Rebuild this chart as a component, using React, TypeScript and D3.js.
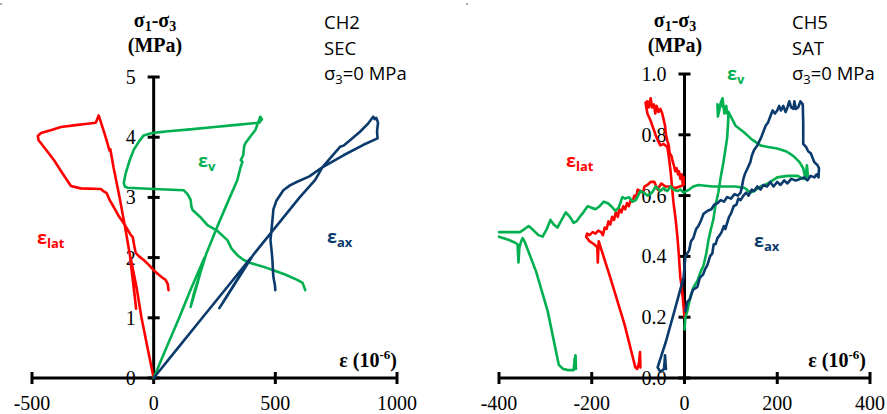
import React from "react";
import * as d3 from "d3";

type P = [number, number];

// ---------- Left panel (CH2, SEC) ----------
const leftXTicks = [-500, 0, 500, 1000];
const leftYTicks = [0, 1, 2, 3, 4, 5];

const leftLat: P[] = [
  [0, 0], [-25, 0.5], [-50, 1.0], [-70, 1.5], [-95, 2.0], [-72, 1.15], [-98, 2.05],
  [-115, 2.45], [-140, 3.0], [-165, 3.5], [-178, 3.8], [-182, 3.78], [-190, 3.9],
  [-205, 4.1], [-221, 4.3], [-226, 4.36], [-232, 4.3], [-238, 4.24], [-280, 4.22],
  [-320, 4.2], [-381, 4.17], [-420, 4.12], [-463, 4.07], [-476, 4.02], [-473, 3.95],
  [-463, 3.9], [-440, 3.78], [-410, 3.62], [-375, 3.4], [-340, 3.19], [-300, 3.15],
  [-217, 3.14], [-205, 3.1], [-193, 3.07], [-180, 2.95], [-164, 2.84], [-145, 2.7],
  [-123, 2.57], [-105, 2.45], [-95, 2.38], [-86, 2.34], [-80, 2.2], [-74, 2.08],
  [-60, 2.02], [-41, 1.96], [-20, 1.88], [0, 1.79], [20, 1.72], [35, 1.67],
  [49, 1.63], [58, 1.56], [61, 1.46],
];

const leftVol: P[] = [
  [0, 0], [50, 0.48], [105, 1.0], [150, 1.45], [209, 2.0], [175, 1.5], [152, 1.18],
  [165, 1.4], [215, 2.05], [260, 2.5], [300, 2.88], [344, 3.29], [357, 3.5],
  [365, 3.59], [358, 3.62], [368, 3.7], [372, 3.85], [377, 3.9], [395, 4.0],
  [418, 4.12], [430, 4.25], [438, 4.34], [445, 4.3], [434, 4.24], [330, 4.2],
  [250, 4.17], [150, 4.13], [60, 4.1], [16, 4.08], [-15, 4.06], [-41, 4.03],
  [-60, 3.93], [-82, 3.79], [-100, 3.6], [-115, 3.4], [-123, 3.24], [-118, 3.18],
  [-107, 3.16], [0, 3.14], [123, 3.12], [140, 3.05], [152, 2.96], [155, 2.85],
  [160, 2.79], [190, 2.68], [221, 2.54], [260, 2.45], [303, 2.29], [320, 2.15],
  [344, 2.04], [370, 1.96], [398, 1.91], [450, 1.85], [492, 1.79], [540, 1.72],
  [590, 1.63], [612, 1.58], [623, 1.46],
];

const leftAx: P[] = [
  [0, 0], [100, 0.5], [200, 1.0], [300, 1.5], [400, 2.0], [330, 1.55], [270, 1.16],
  [300, 1.35], [410, 2.05], [492, 2.46], [600, 3.0], [664, 3.29], [693, 3.5],
  [740, 3.72], [766, 3.84], [780, 3.86], [807, 3.95], [848, 4.09], [880, 4.22],
  [902, 4.34], [908, 4.3], [915, 4.32], [922, 4.24], [918, 4.1], [920, 3.98],
  [860, 3.87], [780, 3.7], [693, 3.5], [640, 3.35], [590, 3.26], [560, 3.2],
  [533, 3.12], [505, 2.95], [492, 2.8], [490, 2.7], [480, 2.29], [485, 2.1],
  [488, 1.96], [490, 1.8], [492, 1.68], [498, 1.55], [500, 1.46],
];

// ---------- Right panel (CH5, SAT) ----------
const rightXTicks = [-400, -200, 0, 200, 400];
const rightYTicks = [0, 0.2, 0.4, 0.6, 0.8, 1.0];

const rightLat: P[] = [
  [0, 0.2], [-3, 0.25], [-6, 0.3], [-9, 0.33], [-12, 0.4], [-15, 0.46], [-19, 0.52],
  [-24, 0.58], [-27, 0.63], [-30, 0.68], [-34, 0.73], [-37, 0.76], [-45, 0.77],
  [-52, 0.765], [-60, 0.79], [-67, 0.82], [-74, 0.85], [-80, 0.87], [-84, 0.905],
  [-80, 0.91], [-77, 0.89], [-73, 0.92], [-70, 0.89], [-66, 0.9], [-63, 0.87],
  [-60, 0.895], [-56, 0.875], [-52, 0.885], [-48, 0.87], [-45, 0.85], [-42, 0.83],
  [-40, 0.8], [-37, 0.78], [-34, 0.765], [-32, 0.74], [-28, 0.73], [-26, 0.715],
  [-23, 0.7], [-20, 0.68], [-17, 0.69], [-14, 0.67], [-12, 0.68], [-9, 0.655],
  [-6, 0.67], [-4, 0.64], [-2, 0.66], [-2, 0.635], [-10, 0.63], [-20, 0.625],
  [-32, 0.63], [-41, 0.63], [-50, 0.64], [-58, 0.62], [-65, 0.645], [-73, 0.645],
  [-80, 0.635], [-86, 0.63], [-90, 0.61], [-95, 0.615], [-101, 0.62], [-104, 0.595],
  [-108, 0.6], [-112, 0.58], [-116, 0.585], [-120, 0.565], [-124, 0.575],
  [-128, 0.555], [-132, 0.565], [-136, 0.545], [-140, 0.555], [-144, 0.53],
  [-148, 0.545], [-152, 0.52], [-156, 0.53], [-160, 0.505], [-164, 0.515],
  [-168, 0.49], [-172, 0.495], [-176, 0.47], [-180, 0.48], [-186, 0.485],
  [-192, 0.475], [-198, 0.48], [-205, 0.47], [-210, 0.475], [-212, 0.465],
  [-205, 0.45], [-195, 0.44], [-188, 0.43], [-187, 0.38], [-185, 0.45],
  [-160, 0.33], [-130, 0.18], [-106, 0.035], [-102, 0.03], [-98, 0.05],
  [-96, 0.085], [-95, 0.035],
];

const rightVolA: P[] = [
  [0, 0.16], [2, 0.2], [6, 0.22], [13, 0.27], [20, 0.3], [28, 0.32], [35, 0.35],
  [41, 0.37], [47, 0.41], [52, 0.456], [57, 0.49], [62, 0.52], [67, 0.57],
  [73, 0.61], [78, 0.66], [84, 0.71], [88, 0.75], [92, 0.79], [94, 0.84],
  [95, 0.875], [92, 0.87], [90, 0.895], [86, 0.87], [82, 0.92], [78, 0.905],
  [75, 0.88], [72, 0.86], [71, 0.9], [74, 0.885], [80, 0.9], [88, 0.88],
  [95, 0.875], [100, 0.86], [110, 0.83], [127, 0.81], [145, 0.785], [164, 0.765],
  [180, 0.76], [200, 0.755], [220, 0.745], [235, 0.73], [248, 0.71], [256, 0.69],
  [261, 0.655], [264, 0.7], [266, 0.665], [256, 0.655], [244, 0.665], [222, 0.665],
  [200, 0.66], [180, 0.64], [164, 0.63], [150, 0.615], [142, 0.61], [130, 0.625],
  [110, 0.63], [92, 0.63], [60, 0.63], [30, 0.635], [19, 0.63], [10, 0.62],
  [-2, 0.61], [-9, 0.62], [-15, 0.615], [-24, 0.62], [-30, 0.63], [-37, 0.615],
  [-45, 0.625], [-52, 0.615], [-62, 0.63], [-70, 0.61], [-80, 0.6], [-88, 0.61],
  [-95, 0.615], [-105, 0.585], [-112, 0.58], [-120, 0.595], [-128, 0.59],
  [-134, 0.595], [-142, 0.56], [-149, 0.55], [-158, 0.565], [-165, 0.575],
  [-174, 0.58], [-183, 0.565], [-192, 0.555], [-200, 0.56], [-209, 0.565],
  [-218, 0.545], [-226, 0.53], [-233, 0.515], [-239, 0.51], [-247, 0.53],
  [-256, 0.545], [-265, 0.52], [-274, 0.495], [-282, 0.505], [-289, 0.52],
  [-297, 0.49], [-306, 0.465], [-315, 0.47], [-325, 0.485], [-336, 0.5],
  [-345, 0.49], [-355, 0.48], [-370, 0.48], [-400, 0.48],
];

const rightVolB: P[] = [
  [-400, 0.465], [-380, 0.455], [-365, 0.445], [-360, 0.44], [-358, 0.38],
  [-356, 0.43], [-352, 0.45], [-349, 0.46], [-345, 0.45], [-320, 0.35],
  [-295, 0.22], [-271, 0.043], [-262, 0.03], [-252, 0.026], [-239, 0.026],
  [-237, 0.06], [-235, 0.075], [-234, 0.03],
];

const rightAx: P[] = [
  [2, 0.22], [6, 0.25], [12, 0.26], [18, 0.29], [28, 0.3], [33, 0.33], [40, 0.34],
  [45, 0.36], [49, 0.37], [55, 0.4], [60, 0.41], [63, 0.44], [67, 0.44], [71, 0.46],
  [76, 0.47], [80, 0.48], [85, 0.5], [88, 0.49], [92, 0.51], [96, 0.53], [100, 0.54],
  [106, 0.565], [112, 0.57], [116, 0.59], [121, 0.585], [127, 0.6], [133, 0.61],
  [138, 0.6], [145, 0.62], [150, 0.615], [157, 0.63], [164, 0.62], [170, 0.635],
  [178, 0.63], [185, 0.645], [192, 0.63], [200, 0.645], [207, 0.635], [215, 0.65],
  [222, 0.64], [230, 0.655], [240, 0.65], [250, 0.655], [258, 0.66], [265, 0.65],
  [272, 0.665], [280, 0.66], [285, 0.67], [289, 0.66], [290, 0.69], [287, 0.7],
  [280, 0.71], [272, 0.74], [267, 0.745], [262, 0.76], [256, 0.77], [256, 0.84],
  [255, 0.9], [250, 0.91], [245, 0.89], [240, 0.885], [237, 0.91], [235, 0.885],
  [230, 0.89], [226, 0.91], [222, 0.89], [218, 0.875], [213, 0.895], [208, 0.88],
  [204, 0.895], [200, 0.88], [195, 0.87], [190, 0.88], [185, 0.86], [180, 0.84],
  [175, 0.83], [170, 0.81], [165, 0.79], [160, 0.775], [157, 0.765], [150, 0.75],
  [145, 0.73], [142, 0.71], [136, 0.69], [130, 0.67], [127, 0.655], [124, 0.63],
  [121, 0.61], [115, 0.6], [108, 0.605], [100, 0.59], [92, 0.595], [85, 0.58],
  [78, 0.585], [71, 0.575], [64, 0.57], [58, 0.555], [50, 0.55], [41, 0.54],
  [36, 0.52], [30, 0.5], [25, 0.49], [19, 0.46], [14, 0.45], [10, 0.42], [6, 0.41],
  [2, 0.4], [-2, 0.33], [-20, 0.23], [-40, 0.12], [-58, 0.035], [-52, 0.02],
  [-44, 0.03], [-42, 0.075], [-40, 0.03],
];

const RED = "#FF0000";
const GREEN = "#00B050";
const NAVY = "#0B3A6C";

const serif = "'Liberation Serif', 'Times New Roman', serif";
const sans = "'Open Sans', 'Liberation Sans', sans-serif";

type Series = { data: P[]; color: string };
type Label = { sub: string; x: number; y: number; color: string };

type PanelProps = {
  xDomain: [number, number];
  xRange: [number, number];
  yDomain: [number, number];
  yRange: [number, number];
  xTicks: number[];
  yTicks: number[];
  yFmt: (v: number) => string;
  series: Series[];
  labels: Label[];
  titleX: number;
  xTitleEnd: number;
  infoX: number;
  info: string[];
};

function Panel(p: PanelProps) {
  const x = d3.scaleLinear().domain(p.xDomain).range(p.xRange);
  const y = d3.scaleLinear().domain(p.yDomain).range(p.yRange);
  const line = d3
    .line<P>()
    .x((d) => x(d[0]))
    .y((d) => y(d[1]))
    .curve(d3.curveLinear);
  const x0 = x(0);
  const y0 = y(0);
  const yTop = y(p.yDomain[1]);
  return (
    <g>
      {p.yTicks.map((t) => (
        <text
          key={"yl" + t}
          x={x0 - 18}
          y={y(t)}
          textAnchor="end"
          dominantBaseline="central"
          fontFamily={serif}
          fontSize={20}
          fill="#000"
        >
          {p.yFmt(t)}
        </text>
      ))}
      {p.xTicks.map((t) => (
        <text
          key={"xl" + t}
          x={x(t)}
          y={410}
          textAnchor="middle"
          fontFamily={serif}
          fontSize={20}
          fill="#000"
        >
          {t}
        </text>
      ))}
      <line x1={x(p.xDomain[0])} x2={x(p.xDomain[1])} y1={y0} y2={y0} stroke="#000" strokeWidth={3} />
      <line x1={x0} x2={x0} y1={yTop} y2={y0} stroke="#000" strokeWidth={3} />
      {p.yTicks.map((t) => (
        <line key={"yt" + t} x1={x0 - 6} x2={x0 + 6} y1={y(t)} y2={y(t)} stroke="#000" strokeWidth={3} />
      ))}
      {p.xTicks.map((t) => (
        <line key={"xt" + t} x1={x(t)} x2={x(t)} y1={y0 - 6} y2={y0 + 6} stroke="#000" strokeWidth={3} />
      ))}
      {p.series.map((s, i) => (
        <path
          key={"s" + i}
          d={line(s.data) || ""}
          fill="none"
          stroke={s.color}
          strokeWidth={2.6}
          strokeLinejoin="round"
          strokeLinecap="round"
        />
      ))}
      <text x={p.titleX} y={27} textAnchor="middle" fontFamily={serif} fontWeight="bold" fontSize={20}>
        σ<tspan dy={4} fontSize={14}>1</tspan>
        <tspan dy={-4}>-σ</tspan>
        <tspan dy={4} fontSize={14}>3</tspan>
      </text>
      <text x={p.titleX} y={52} textAnchor="middle" fontFamily={serif} fontWeight="bold" fontSize={20}>
        (MPa)
      </text>
      <text x={p.xTitleEnd} y={367} textAnchor="end" fontFamily={serif} fontWeight="bold" fontSize={20}>
        ε (10<tspan dy={-8} fontSize={13}>-6</tspan>
        <tspan dy={8}>)</tspan>
      </text>
      <text x={p.infoX} y={29} fontFamily={sans} fontSize={18.5}>{p.info[0]}</text>
      <text x={p.infoX} y={55} fontFamily={sans} fontSize={18.5}>{p.info[1]}</text>
      <text x={p.infoX} y={80} fontFamily={sans} fontSize={18.5}>
        σ<tspan dy={4} fontSize={13}>3</tspan>
        <tspan dy={-4}>=0 MPa</tspan>
      </text>
      {p.labels.map((l, i) => (
        <text key={"lb" + i} x={l.x} y={l.y} fontFamily={sans} fontWeight="bold" fontSize={18} fill={l.color}>
          ε<tspan dy={4} fontSize={13}>{l.sub}</tspan>
        </text>
      ))}
    </g>
  );
}

export default function App() {
  return (
    <svg
      width={887}
      height={414}
      viewBox="0 0 887 414"
      style={{ position: "absolute", left: 0, top: 0, background: "#fff" }}
    >
      <rect width={887} height={414} fill="#fff" />
      <rect x={0} y={3} width={2} height={2} fill="#aaa" />
      <rect x={466} y={3} width={2} height={2} fill="#aaa" />
      <Panel
        xDomain={[-500, 1000]}
        xRange={[32, 397]}
        yDomain={[0, 5]}
        yRange={[378, 77]}
        xTicks={leftXTicks}
        yTicks={leftYTicks}
        yFmt={(v) => String(v)}
        series={[
          { data: leftLat, color: RED },
          { data: leftVol, color: GREEN },
          { data: leftAx, color: NAVY },
        ]}
        labels={[
          { sub: "lat", x: 37, y: 244, color: RED },
          { sub: "v", x: 198, y: 167, color: GREEN },
          { sub: "ax", x: 327, y: 243, color: NAVY },
        ]}
        titleX={155}
        xTitleEnd={397}
        infoX={324}
        info={["CH2", "SEC"]}
      />
      <Panel
        xDomain={[-400, 400]}
        xRange={[499, 870]}
        yDomain={[0, 1]}
        yRange={[378, 74]}
        xTicks={rightXTicks}
        yTicks={rightYTicks}
        yFmt={(v) => v.toFixed(1)}
        series={[
          { data: rightLat, color: RED },
          { data: rightVolA, color: GREEN },
          { data: rightVolB, color: GREEN },
          { data: rightAx, color: NAVY },
        ]}
        labels={[
          { sub: "lat", x: 566, y: 167, color: RED },
          { sub: "v", x: 727, y: 80, color: GREEN },
          { sub: "ax", x: 754, y: 247, color: NAVY },
        ]}
        titleX={675}
        xTitleEnd={866}
        infoX={792}
        info={["CH5", "SAT"]}
      />
    </svg>
  );
}
